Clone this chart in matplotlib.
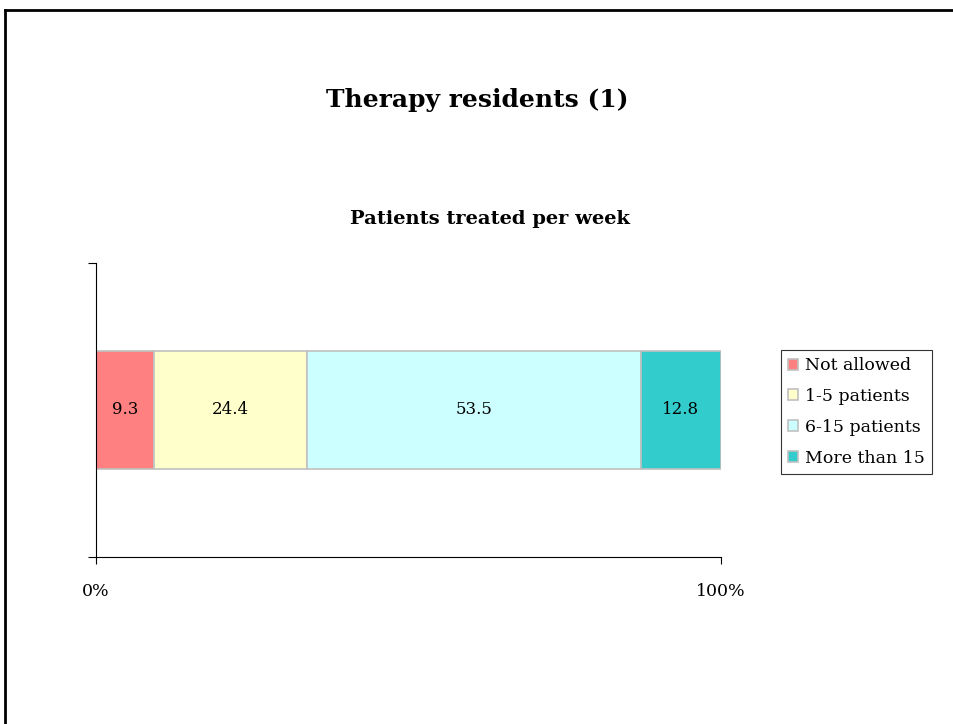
import matplotlib
matplotlib.use("Agg")
import matplotlib.pyplot as plt
from matplotlib.lines import Line2D

# data
categories = ["Not allowed", "1-5 patients", "6-15 patients", "More than 15"]
values = [9.3, 24.4, 53.5, 12.8]
colors = ["#FF8080", "#FFFFCC", "#CCFFFF", "#33CCCC"]
tick_labels = ["0%", "100%"]

plt.rcParams["font.family"] = ["DejaVu Serif"]

fig = plt.figure(figsize=(9.54, 7.24), dpi=100)
ax = fig.add_axes([96 / 954, 1 - 557 / 724, (721 - 96) / 954, (557 - 263) / 724])

left = 0
for cat, val, col in zip(categories, values, colors):
    ax.barh(0.5, val, left=left, height=0.4, color=col, edgecolor="#c0c0c0",
            linewidth=1.2, label=cat)
    ax.text(left + val / 2, 0.5, f"{val}", ha="center", va="center", fontsize=12)
    left += val

ax.set_xlim(0, 100)
ax.set_ylim(0, 1)
ax.set_xticks([0, 100])
ax.set_xticklabels(tick_labels, fontsize=12.5)
ax.set_yticks([0, 1])
ax.set_yticklabels([])
ax.tick_params(axis="x", direction="out", length=5, pad=14)
ax.tick_params(axis="y", direction="out", length=6)
for s in ["top", "right"]:
    ax.spines[s].set_visible(False)

fig.text(0.5, 1 - 100 / 724, "Therapy residents (1)", ha="center", va="center",
         fontsize=18, fontweight="bold")
fig.text(490 / 954, 1 - 219 / 724, "Patients treated per week", ha="center",
         va="center", fontsize=14, fontweight="bold")

leg = ax.legend(loc="center left", bbox_to_anchor=(772 / 954, 1 - 412 / 724),
                bbox_transform=fig.transFigure, frameon=True, fancybox=False,
                edgecolor="black", fontsize=12.5, handlelength=0.6, handleheight=0.6,
                handletextpad=0.4, borderpad=0.4, labelspacing=0.8)
leg.get_frame().set_linewidth(0.8)

# outer frame (top and left edges)
fig.add_artist(Line2D([5 / 954, 1], [1 - 10 / 724, 1 - 10 / 724], color="black",
                      linewidth=2, transform=fig.transFigure))
fig.add_artist(Line2D([5 / 954, 5 / 954], [0, 1 - 10 / 724], color="black",
                      linewidth=2, transform=fig.transFigure))

fig.savefig("out.png", dpi=100)
